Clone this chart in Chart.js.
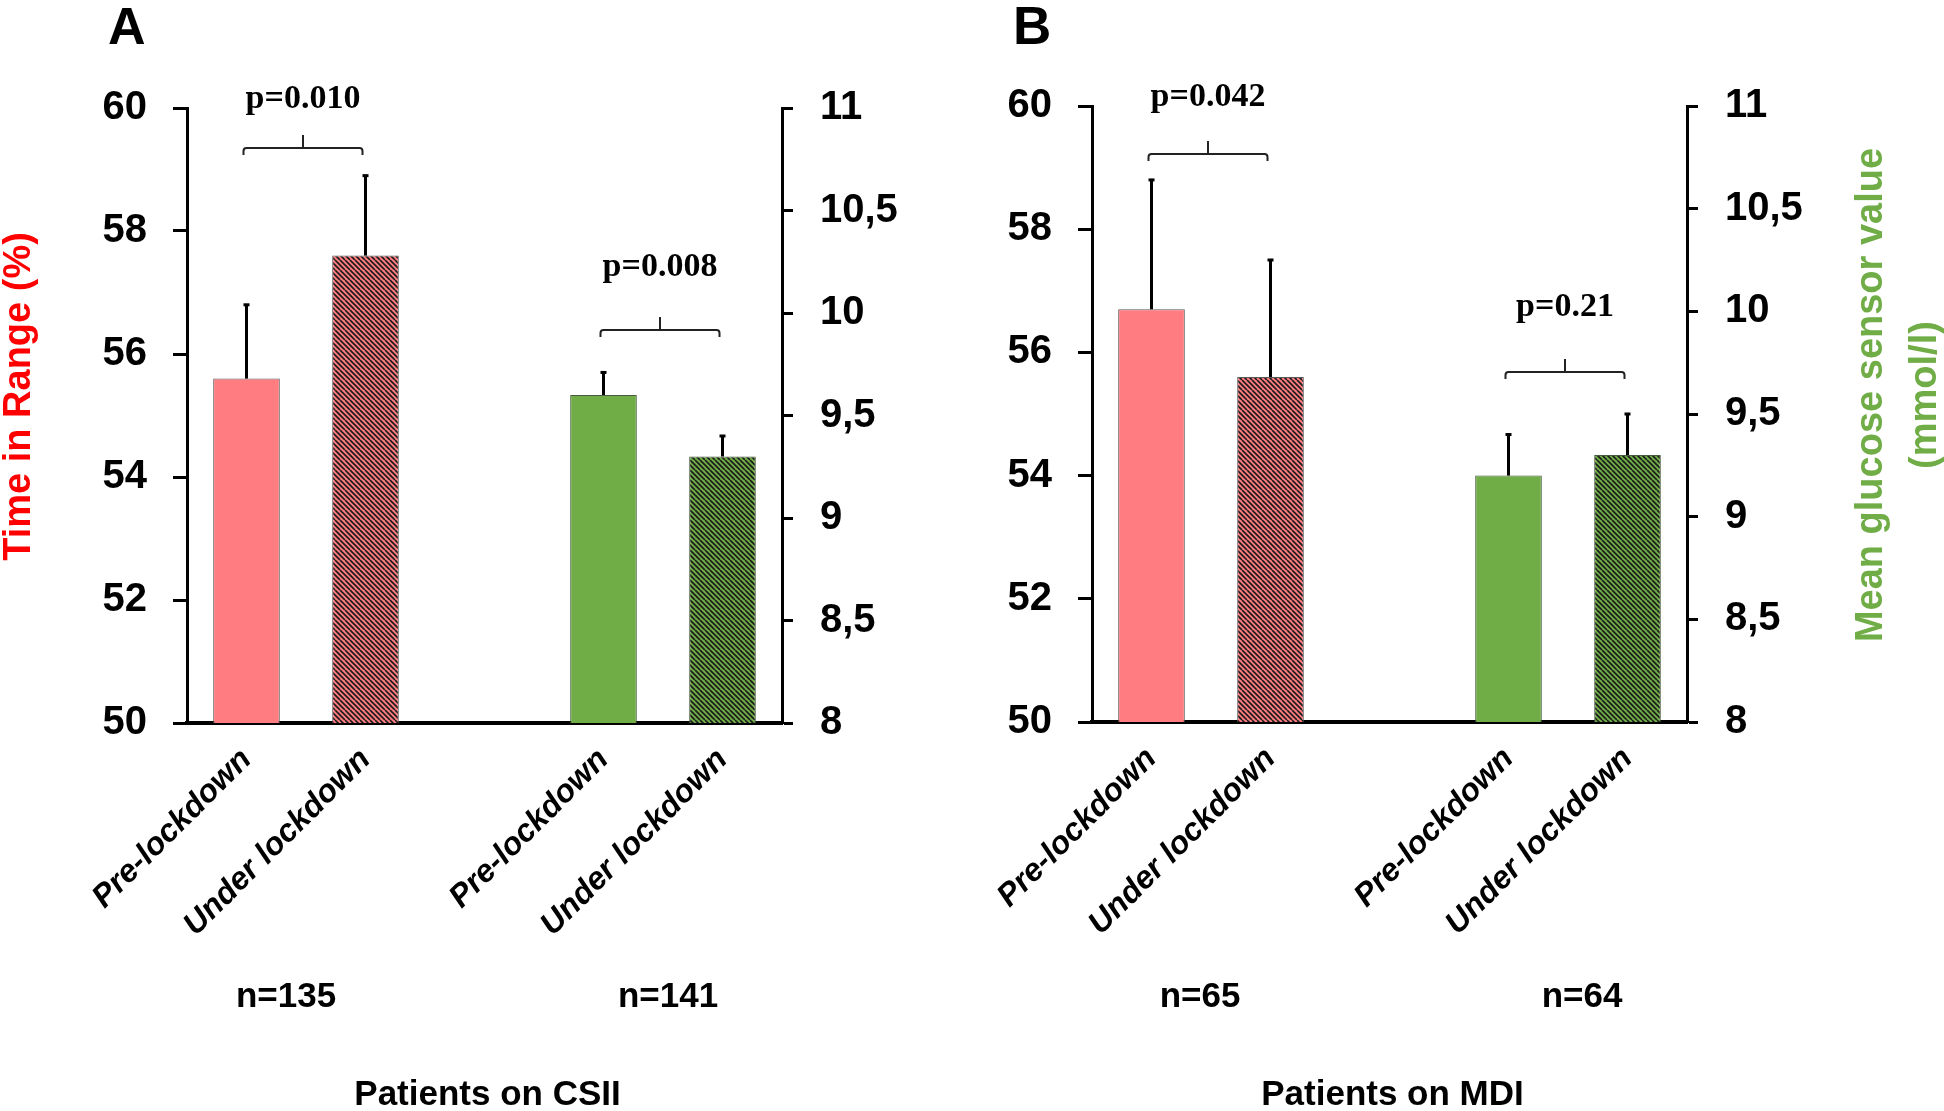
<!DOCTYPE html>
<html>
<head>
<meta charset="utf-8">
<script src="https://cdn.jsdelivr.net/npm/chart.js@4.4.1/dist/chart.umd.min.js"></script>
<style>
	html, body { margin: 0; padding: 0; background: #fff; }
	#wrap { position: relative; width: 1944px; height: 1111px; overflow: hidden; }
	canvas { position: absolute; top: 0; }
	#chartA { left: 0; }
	#chartB { left: 972px; }
</style>
</head>
<body>
<div id="wrap">
	<canvas id="chartA" width="972" height="1111"></canvas>
	<canvas id="chartB" width="972" height="1111"></canvas>
</div>
<script>
// Bar slots, the empty middle slot is the gap between the two groups
let categoryLabels = ["Pre-lockdown", "Under lockdown", "", "Pre-lockdown", "Under lockdown"]

// Axis ticks
let tirTicks = [50, 52, 54, 56, 58, 60]
let glucoseTicks = [8, 8.5, 9, 9.5, 10, 10.5, 11]

// Patients on CSII
let csiiTir = [55.6, 57.6, null, null, null]
let csiiTirErr = [1.2, 1.3, null, null, null]
let csiiGlucose = [null, null, null, 9.6, 9.3]
let csiiGlucoseErr = [null, null, null, 0.11, 0.1]
let csiiN = ["n=135", "n=141"]
let csiiP = ["p=0.010", "p=0.008"]

// Patients on MDI
let mdiTir = [56.7, 55.6, null, null, null]
let mdiTirErr = [2.1, 1.9, null, null, null]
let mdiGlucose = [null, null, null, 9.2, 9.3]
let mdiGlucoseErr = [null, null, null, 0.2, 0.2]
let mdiN = ["n=65", "n=64"]
let mdiP = ["p=0.042", "p=0.21"]

let pink = "#FF7C80"
let green = "#70AD47"
let sans = "'Liberation Sans', Arial, sans-serif"
let serif = "'Liberation Serif', 'Times New Roman', serif"

// Layout of each panel (pixels inside its own canvas)
let panels = [
	{
		canvas: "chartA", letter: "A", letterSize: 52, group: "Patients on CSII",
		tir: csiiTir, tirErr: csiiTirErr, glucose: csiiGlucose, glucoseErr: csiiGlucoseErr,
		nLabels: csiiN, pLabels: csiiP,
		area: {left: 187, right: 782, top: 108, bottom: 723},
		brackets: [{from: 0, to: 1, level: 59.35, textLevel: 60.0}, {from: 3, to: 4, level: 56.39, textLevel: 57.27}],
		nShift: [-20, 5],
		leftTitle: true,
	},
	{
		canvas: "chartB", letter: "B", letterSize: 53, group: "Patients on MDI",
		tir: mdiTir, tirErr: mdiTirErr, glucose: mdiGlucose, glucoseErr: mdiGlucoseErr,
		nLabels: mdiN, pLabels: mdiP,
		area: {left: 120, right: 715, top: 106, bottom: 722},
		brackets: [{from: 0, to: 1, level: 59.22, textLevel: 60.0}, {from: 3, to: 4, level: 55.68, textLevel: 56.59}],
		nShift: [-11, 14],
		rightTitle: true,
	},
]

// Diagonal hatch fill
function hatch(color) {
	let tile = document.createElement("canvas")
	tile.width = 10
	tile.height = 10
	let c = tile.getContext("2d")
	c.fillStyle = color
	c.fillRect(0, 0, 10, 10)
	c.strokeStyle = "#1a1a1a"
	c.lineWidth = 1.6
	c.beginPath()
	for (let k = -10; k <= 10; k += 5) {
		c.moveTo(k, 0)
		c.lineTo(k + 10, 10)
	}
	c.stroke()
	return c.createPattern(tile, "repeat")
}

function commaLabel(value) {
	return String(value).replace(".", ",")
}

function text(ctx, str, x, y, font, color, align, angle) {
	ctx.save()
	ctx.translate(x, y)
	if (angle) ctx.rotate(angle)
	ctx.font = font
	ctx.fillStyle = color
	ctx.textAlign = align || "center"
	ctx.textBaseline = "middle"
	ctx.fillText(str, 0, 0)
	ctx.restore()
}

// Error bars, p-value brackets and the free texts
function panelMarks(panel) {
	return {
		id: "panelMarks",
		afterDatasetsDraw(chart) {
			let ctx = chart.ctx
			let yTir = chart.scales.y
			let yGlu = chart.scales.y1
			let sets = [
				{meta: chart.getDatasetMeta(0), values: panel.tir, err: panel.tirErr, scale: yTir},
				{meta: chart.getDatasetMeta(1), values: panel.glucose, err: panel.glucoseErr, scale: yGlu},
			]
			ctx.save()
			ctx.strokeStyle = "#000"
			ctx.fillStyle = "#000"
			ctx.lineWidth = 3
			sets.forEach(function (set) {
				set.values.forEach(function (v, i) {
					if (v == null || set.err[i] == null) return
					let bar = set.meta.data[i]
					let top = set.scale.getPixelForValue(v + set.err[i])
					ctx.beginPath()
					ctx.moveTo(bar.x, bar.y)
					ctx.lineTo(bar.x, top)
					ctx.stroke()
					ctx.fillRect(bar.x - 3, top - 1.5, 6, 3)
				})
			})

			let xs = chart.scales.x
			ctx.lineWidth = 2
			ctx.strokeStyle = "#222"
			panel.brackets.forEach(function (b, i) {
				let x1 = xs.getPixelForValue(b.from) - 3
				let x2 = xs.getPixelForValue(b.to) - 3
				let xm = (x1 + x2) / 2
				let y = yTir.getPixelForValue(b.level)
				ctx.beginPath()
				ctx.moveTo(x1, y + 7)
				ctx.arcTo(x1, y, x1 + 4, y, 3)
				ctx.arcTo(x2, y, x2, y + 7, 3)
				ctx.lineTo(x2, y + 7)
				ctx.moveTo(xm, y)
				ctx.lineTo(xm, y - 13)
				ctx.stroke()

				ctx.font = "bold 34px " + serif
				ctx.textAlign = "center"
				ctx.textBaseline = "alphabetic"
				ctx.fillStyle = "#000"
				ctx.fillText(panel.pLabels[i], xm, yTir.getPixelForValue(b.textLevel))
			})
			ctx.restore()
		},
		afterDraw(chart) {
			let ctx = chart.ctx
			let area = chart.chartArea
			let xs = chart.scales.x
			let mid = (area.top + area.bottom) / 2 - 19

			ctx.save()
			ctx.font = "bold " + panel.letterSize + "px " + sans
			ctx.fillStyle = "#000"
			ctx.textAlign = "left"
			ctx.textBaseline = "alphabetic"
			ctx.fillText(panel.letter, area.left - 79, 44)
			ctx.restore()

			panel.nLabels.forEach(function (label, i) {
				let a = xs.getPixelForValue(i * 3)
				let b = xs.getPixelForValue(i * 3 + 1)
				text(ctx, label, (a + b) / 2 + panel.nShift[i], 997, "bold 35px " + sans, "#000")
			})
			text(ctx, panel.group, (area.left + area.right) / 2 + 3, 1095, "bold 35px " + sans, "#000")

			if (panel.leftTitle) {
				text(ctx, "Time in Range (%)", area.left - 167, mid, "bold 38px " + sans, "#FF0000", "center", -Math.PI / 2)
			}
			if (panel.rightTitle) {
				text(ctx, "Mean glucose sensor value", area.right + 185, mid, "bold 38px " + sans, green, "center", -Math.PI / 2)
				text(ctx, "(mmol/l)", area.right + 239, mid, "bold 38px " + sans, green, "center", -Math.PI / 2)
			}
		},
	}
}

function buildConfig(panel) {
	let canvasW = 972
	let canvasH = 1111
	let tickFont = {family: sans, size: 40, weight: "bold"}
	return {
		type: "bar",
		data: {
			labels: categoryLabels,
			datasets: [
				{
					label: "Time in Range (%)",
					data: panel.tir,
					yAxisID: "y",
					backgroundColor: [pink, hatch(pink), pink, pink, pink],
					borderColor: "#5a5a5a",
					borderWidth: 1,
					grouped: false,
					barPercentage: 0.56,
					categoryPercentage: 1,
				},
				{
					label: "Mean glucose sensor value (mmol/l)",
					data: panel.glucose,
					yAxisID: "y1",
					backgroundColor: [green, green, green, green, hatch(green)],
					borderColor: "#4a5a40",
					borderWidth: 1,
					grouped: false,
					barPercentage: 0.56,
					categoryPercentage: 1,
				},
			],
		},
		options: {
			responsive: false,
			animation: false,
			devicePixelRatio: 1,
			events: [],
			layout: {padding: {top: panel.area.top, left: 0, right: 0, bottom: 0}},
			plugins: {
				legend: {display: false},
				tooltip: {enabled: false},
			},
			scales: {
				x: {
					z: 1,
					grid: {display: false, drawTicks: false},
					border: {color: "#000", width: 4},
					ticks: {
						autoSkip: false,
						minRotation: 45,
						maxRotation: 45,
						padding: 18,
						color: "#000",
						font: {family: sans, size: 32, weight: "bold", style: "italic"},
					},
					afterFit: function (scale) { scale.height = canvasH - panel.area.bottom },
				},
				y: {
					position: "left",
					min: tirTicks[0],
					max: tirTicks[tirTicks.length - 1],
					z: 1,
					grid: {drawOnChartArea: false, tickLength: 14, tickWidth: 3, tickColor: "#000", color: "#000"},
					border: {color: "#000", width: 3},
					ticks: {padding: 26, color: "#000", font: tickFont},
					afterBuildTicks: function (scale) { scale.ticks = tirTicks.map(v => ({value: v})) },
					afterFit: function (scale) { scale.width = panel.area.left },
				},
				y1: {
					position: "right",
					min: glucoseTicks[0],
					max: glucoseTicks[glucoseTicks.length - 1],
					z: 1,
					grid: {drawOnChartArea: false, tickLength: 11, tickWidth: 3, tickColor: "#000", color: "#000"},
					border: {color: "#000", width: 3},
					ticks: {padding: 27, color: "#000", font: tickFont, callback: v => commaLabel(v)},
					afterBuildTicks: function (scale) { scale.ticks = glucoseTicks.map(v => ({value: v})) },
					afterFit: function (scale) { scale.width = canvasW - panel.area.right },
				},
			},
		},
		plugins: [panelMarks(panel)],
	}
}

let charts = panels.map(function (panel) {
	return new Chart(document.getElementById(panel.canvas), buildConfig(panel))
})
</script>
</body>
</html>
